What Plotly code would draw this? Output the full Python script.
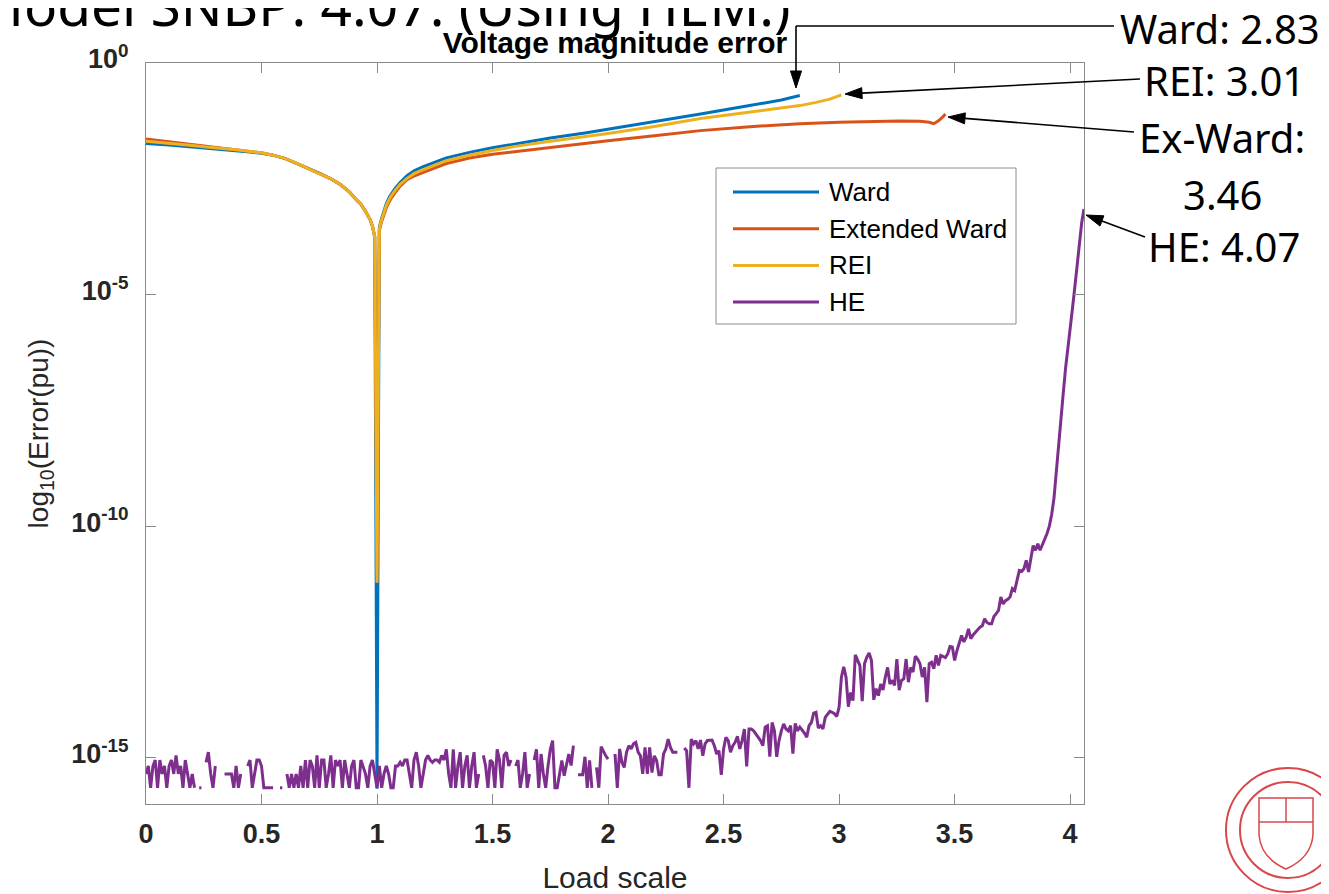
import math
import plotly.graph_objects as go

# ---------------- data ----------------
SERIES_NAMES = ["Ward", "Extended Ward", "REI", "HE"]
SERIES_COLORS = ["#0072BD", "#D95319", "#EDB120", "#7E2F8E"]

# log10 of the voltage-magnitude error (pu)
WARD_X = [0, 0.05, 0.1, 0.15, 0.2, 0.25, 0.3, 0.35, 0.4, 0.45, 0.5, 0.55, 0.6, 0.65, 0.7, 0.75,
          0.8, 0.84, 0.88, 0.91, 0.93, 0.95, 0.96, 0.97, 0.98, 0.99, 1.0,
          1.01, 1.02, 1.03, 1.04, 1.05, 1.06, 1.08, 1.1, 1.13, 1.16, 1.2, 1.25, 1.3, 1.35,
          1.4, 1.5, 1.6, 1.75, 1.9, 2.0, 2.2, 2.4, 2.6, 2.75, 2.83]
WARD_LOG10 = [-1.74, -1.75, -1.77, -1.79, -1.81, -1.83, -1.85, -1.87, -1.89, -1.92, -1.95,
              -1.99, -2.06, -2.16, -2.27, -2.38, -2.50, -2.62, -2.78, -2.95, -3.05, -3.20,
              -3.28, -3.38, -3.52, -3.75, -15.67,
              -3.55, -3.35, -3.18, -3.04, -2.93, -2.84, -2.70, -2.58, -2.43, -2.33, -2.24,
              -2.14, -2.05, -1.99, -1.93, -1.83, -1.74, -1.62, -1.51, -1.43, -1.27, -1.10,
              -0.93, -0.80, -0.70]

EXW_X = [0, 0.05, 0.1, 0.15, 0.2, 0.25, 0.3, 0.35, 0.4, 0.45, 0.5, 0.55, 0.6, 0.65, 0.7, 0.75,
         0.8, 0.84, 0.88, 0.91, 0.93, 0.95, 0.96, 0.97, 0.98, 0.99, 1.0,
         1.01, 1.02, 1.03, 1.04, 1.05, 1.06, 1.08, 1.1, 1.13, 1.16, 1.2, 1.25, 1.3, 1.35,
         1.4, 1.5, 1.6, 1.75, 1.9, 2.0, 2.2, 2.4, 2.6, 2.83, 3.0, 3.15, 3.26, 3.35, 3.39,
         3.41, 3.43, 3.45, 3.46]
EXW_LOG10 = [-1.64, -1.67, -1.70, -1.73, -1.76, -1.79, -1.82, -1.85, -1.88, -1.91, -1.94,
             -1.99, -2.06, -2.16, -2.27, -2.38, -2.50, -2.62, -2.78, -2.95, -3.05, -3.20,
             -3.28, -3.38, -3.52, -3.76, -11.0,
             -3.62, -3.42, -3.26, -3.13, -3.02, -2.93, -2.79, -2.66, -2.52, -2.44, -2.36,
             -2.26, -2.17, -2.11, -2.05, -1.97, -1.91, -1.82, -1.74, -1.68, -1.57, -1.46,
             -1.38, -1.31, -1.28, -1.26, -1.25, -1.26, -1.28, -1.31, -1.25, -1.16, -1.10]

REI_X = [0, 0.05, 0.1, 0.15, 0.2, 0.25, 0.3, 0.35, 0.4, 0.45, 0.5, 0.55, 0.6, 0.65, 0.7, 0.75,
         0.8, 0.84, 0.88, 0.91, 0.93, 0.95, 0.96, 0.97, 0.98, 0.99, 1.0,
         1.01, 1.02, 1.03, 1.04, 1.05, 1.06, 1.08, 1.1, 1.13, 1.16, 1.2, 1.25, 1.3, 1.35,
         1.4, 1.5, 1.6, 1.75, 1.9, 2.0, 2.2, 2.4, 2.6, 2.75, 2.83, 2.9, 2.96, 3.01]
REI_LOG10 = [-1.69, -1.71, -1.73, -1.76, -1.78, -1.81, -1.83, -1.86, -1.88, -1.91, -1.94,
             -1.99, -2.06, -2.16, -2.27, -2.38, -2.50, -2.62, -2.78, -2.95, -3.05, -3.20,
             -3.28, -3.38, -3.52, -3.75, -11.22,
             -3.58, -3.38, -3.21, -3.08, -2.97, -2.88, -2.74, -2.62, -2.49, -2.39, -2.30,
             -2.20, -2.11, -2.05, -1.99, -1.89, -1.80, -1.69, -1.59, -1.52, -1.37, -1.20,
             -1.07, -0.97, -0.92, -0.85, -0.78, -0.69]

# HE: one value every 0.01 of load scale, from 0.00 to 4.06 (None = exact zero, not drawn)
HE_STEP = 0.01
HE_LOG10 = [
    -15.35, -15.18, -15.65, -15.18, -15.05, -15.65, -15.05, -15.35, -15.18, -15.65,  # 0.0
    -15.18, -15.05, -15.35, -14.95, -15.35, -15.18, -15.65, -15.05, -15.35, -15.65,  # 0.1
    -15.35, -15.65, None, -15.65, -15.65, None, -15.10, -14.88, -15.35, -15.65,      # 0.2
    -15.18, None, None, None, -15.35, -15.35, -15.35, -15.35, -15.65, -15.18,        # 0.3
    -15.65, -15.35, None, None, -15.18, -15.05, -15.65, -15.35, -15.05, -15.05,      # 0.4
    -15.18, -15.65, -15.65, -15.65, -15.65, -15.65, None, None, -15.65, -15.65,      # 0.5
    None, -15.35, -15.65, -15.35, -15.65, -15.35, -15.65, -15.18, -15.65, -15.05,    # 0.6
    -15.65, -15.05, -15.18, -15.65, -14.95, -15.65, -15.05, -15.05, -15.65, -15.35,  # 0.7
    -14.95, -15.65, -15.05, -15.18, -15.05, -15.65, -15.05, -15.35, -15.65, -15.18,  # 0.8
    -15.05, -15.65, -15.65, -15.05, -15.18, -15.35, -15.65, -15.18, -15.05, -15.35,  # 0.9
    -15.65, -15.18, -15.65, -15.35, -15.18, -15.35, -15.65, -15.65, -15.18, -15.18,  # 1.0
    -15.10, -15.18, -15.05, -15.05, -15.35, -15.65, -15.05, -14.88, -15.18, -15.65,  # 1.1
    -15.35, -15.05, -14.95, -15.05, -15.10, -15.05, -15.05, -15.10, -14.95, -15.05,  # 1.2
    -14.82, -15.35, -15.65, -14.82, -15.65, -15.18, -14.88, -15.65, -15.18, -14.95,  # 1.3
    -15.65, -15.18, -14.88, -15.65, -15.35, None, -14.95, -15.18, -15.65, -15.05,    # 1.4
    -15.10, -15.65, -14.82, -15.05, -15.65, -14.95, -14.88, -15.18, -15.05, None,    # 1.5
    -15.18, -15.05, -15.65, -15.35, -14.88, -15.65, -15.35, None, -15.05, -14.82,    # 1.6
    -15.65, -14.92, -15.35, -15.65, -15.18, -14.82, -14.63, -15.65, -15.65, -15.35,  # 1.7
    -15.06, -15.39, -15.18, -14.92, -15.17, -14.74, None, -15.37, -15.37, -15.37,    # 1.8
    -14.98, -15.65, -15.06, -15.65, None, -15.21, -15.65, -14.76, -14.88, -14.96,    # 1.9
    -15.03, None, None, -14.92, -15.65, -14.81, -15.10, -15.21, -14.88, -14.74,      # 2.0
    -14.81, -14.70, -14.67, -14.88, -14.96, -15.35, -14.78, -15.35, -14.78, -15.32,  # 2.1
    -14.96, -15.06, -15.37, -15.37, -14.92, -14.81, -14.60, -14.78, -14.88, -14.88,  # 2.2
    -14.88, None, None, -14.79, -14.85, -15.65, -14.60, -14.70, -14.63, -14.81,      # 2.3
    -14.62, -14.96, -14.70, -14.63, -14.62, -14.62, -14.74, -14.92, -14.85, -15.37,  # 2.4
    -14.81, -14.56, -14.63, -14.88, -14.74, -14.67, -14.54, -14.81, -14.63, -14.38,  # 2.5
    -15.19, -14.38, -14.38, -14.42, -14.49, -14.56, -14.63, -14.74, -14.34, -14.31,  # 2.6
    -14.98, -14.24, -14.42, -14.98, -14.63, -14.42, -14.27, -14.38, -14.42, -14.31,  # 2.7
    -14.91, -14.26, -14.42, -14.34, -14.40, -14.47, -14.56, -14.31, -14.24, -14.04,  # 2.8
    -14.02, -14.36, -14.31, -14.38, -14.13, -14.05, -14.00, -14.02, -14.05, -14.11,  # 2.9
    -13.91, -13.26, -13.04, -13.26, -13.90, -13.59, -13.77, -12.78, -12.90, -13.01,  # 3.0
    -13.78, -12.97, -12.83, -12.74, -12.90, -13.75, -13.51, -13.66, -13.41, -13.54,  # 3.1
    -13.26, -13.05, -13.41, -13.33, -13.44, -12.87, -13.54, -13.33, -13.30, -12.87,  # 3.2
    -13.37, -13.05, -13.15, -12.81, -12.87, -12.97, -13.26, -13.05, -13.80, -12.97,  # 3.3
    -12.94, -13.08, -12.79, -13.01, -12.79, -12.81, -12.84, -12.76, -12.60, -12.61,  # 3.4
    -12.90, -12.69, -12.54, -12.36, -12.50, -12.40, -12.22, -12.43, -12.35, -12.29,  # 3.5
    -12.22, -12.18, -12.15, -12.00, -12.08, -12.11, -12.11, -11.95, -11.89, -11.82,  # 3.6
    -11.53, -11.68, -11.61, -11.58, -11.53, -11.35, -11.39, -11.14, -10.96, -10.98,  # 3.7
    -10.92, -10.74, -10.99, -10.70, -10.42, -10.52, -10.38, -10.52, -10.40, -10.30,  # 3.8
    -10.16, -10.00, -9.75, -9.40, -8.80, -8.29, -7.75, -7.14, -6.60, -6.20,          # 3.9
    -5.75, -5.30, -4.85, -4.40, -3.90, -3.45, -3.15,                                 # 4.0
]
HE_X = [round(i * HE_STEP, 2) for i in range(len(HE_LOG10))]

X_TICKS = [0, 0.5, 1, 1.5, 2, 2.5, 3, 3.5, 4]
X_TICK_TEXT = ["0", "0.5", "1", "1.5", "2", "2.5", "3", "3.5", "4"]
Y_TICKS = [1e-15, 1e-10, 1e-5, 1]
Y_TICK_TEXT = ["10<sup>-15</sup>", "10<sup>-10</sup>", "10<sup>-5</sup>", "10<sup>0</sup>"]

CALLOUTS = ["Ward: 2.83", "REI: 3.01", "Ex-Ward:", "3.46", "HE: 4.07"]
SLIDE_TITLE = "Model SNBP: 4.07. (Using HEM.)"


def to_err(logs):
    return [None if v is None else 10 ** v for v in logs]


# ---------------- geometry (page has an 8px body margin) ----------------
OFF = 8
FW, FH = 1329 - 2 * OFF, 894 - OFF
# plot area in screenshot pixels
PL, PR, PT, PB = 146, 1084, 63, 804


def px(x):  # screenshot x -> paper
    return (x - PL) / (PR - PL)


def py(y):  # screenshot y -> paper
    return (PB - y) / (PB - PT)


fig = go.Figure()
for name, color, xs, ys in [
    (SERIES_NAMES[0], SERIES_COLORS[0], WARD_X, WARD_LOG10),
    (SERIES_NAMES[1], SERIES_COLORS[1], EXW_X, EXW_LOG10),
    (SERIES_NAMES[2], SERIES_COLORS[2], REI_X, REI_LOG10),
    (SERIES_NAMES[3], SERIES_COLORS[3], HE_X, HE_LOG10),
]:
    fig.add_trace(go.Scatter(x=xs, y=to_err(ys), mode="lines", name=name,
                             line=dict(color=color, width=3), connectgaps=False))

AX = "#8a8a8a"
TXT = "#262626"
fig.update_layout(
    width=FW, height=FH,
    margin=dict(l=PL - OFF, r=FW - (PR - OFF), t=PT - OFF, b=FH - (PB - OFF)),
    plot_bgcolor="white", paper_bgcolor="white",
    showlegend=False,
    title=dict(text="<b>Voltage magnitude error</b>", x=0.5, xref="paper",
               y=1 - (42 - OFF) / FH, yref="container", xanchor="center", yanchor="middle",
               font=dict(family="Liberation Sans", size=30, color="black")),
    xaxis=dict(range=[0, 4.06], tickvals=X_TICKS, ticktext=X_TICK_TEXT,
               ticks="inside", ticklen=10, tickcolor=AX, tickwidth=1,
               showline=True, linecolor=AX, linewidth=1, mirror="ticks",
               showgrid=False, zeroline=False, automargin=False,
               ticklabelstandoff=6,
               tickfont=dict(family="Liberation Sans", size=27, color=TXT, weight="bold"),
               title=dict(text="Load scale", standoff=20,
                          font=dict(family="Liberation Sans", size=30, color=TXT))),
    yaxis=dict(type="log", range=[-16, 0], tickvals=Y_TICKS, ticktext=Y_TICK_TEXT,
               ticks="inside", ticklen=10, tickcolor=AX, tickwidth=1,
               showline=True, linecolor=AX, linewidth=1, mirror="ticks",
               showgrid=False, zeroline=False, automargin=False,
               ticklabelstandoff=11, ticklabelshift=-4,
               tickfont=dict(family="Liberation Sans", size=27, color=TXT, weight="bold"),
               title=dict(text="log<sub>10</sub>(Error(pu))", standoff=14,
                          font=dict(family="Liberation Sans", size=28, color=TXT))),
)

shapes = []
annotations = []

# ---- manual legend ----
LX0, LX1, LY0, LY1 = 716, 1016, 168, 324
shapes.append(dict(type="rect", xref="paper", yref="paper", x0=px(LX0), x1=px(LX1),
                   y0=py(LY1), y1=py(LY0), line=dict(color="#8c8c8c", width=1),
                   fillcolor="white", layer="above"))
for i, (name, color) in enumerate(zip(SERIES_NAMES, SERIES_COLORS)):
    ry = 192 + i * 36.7
    shapes.append(dict(type="line", xref="paper", yref="paper", x0=px(733), x1=px(819),
                       y0=py(ry), y1=py(ry), line=dict(color=color, width=3), layer="above"))
    annotations.append(dict(text=name, xref="paper", yref="paper", x=px(827), y=py(ry),
                            xanchor="left", yanchor="middle", showarrow=False,
                            font=dict(family="Liberation Sans", size=26, color="black")))


# ---- callout arrows ----
def arrow(tail, head, L=17, Wd=11):
    (tx, ty), (hx, hy) = tail, head
    dx, dy = hx - tx, hy - ty
    d = math.hypot(dx, dy)
    ux, uy = dx / d, dy / d
    nx, ny = -uy, ux
    bx, by = hx - L * ux, hy - L * uy
    shapes.append(dict(type="line", xref="paper", yref="paper", x0=px(tx), y0=py(ty),
                       x1=px(bx), y1=py(by), line=dict(color="black", width=1.6),
                       layer="above"))
    p = "M {},{} L {},{} L {},{} Z".format(
        px(hx), py(hy), px(bx + nx * Wd / 2), py(by + ny * Wd / 2),
        px(bx - nx * Wd / 2), py(by - ny * Wd / 2))
    shapes.append(dict(type="path", xref="paper", yref="paper", path=p,
                       fillcolor="black", line=dict(color="black", width=1), layer="above"))


# Ward: elbow connector
shapes.append(dict(type="line", xref="paper", yref="paper", x0=px(1114), y0=py(26),
                   x1=px(796), y1=py(26), line=dict(color="black", width=1.6), layer="above"))
arrow((796, 26), (796, 88))
arrow((1140, 79), (845, 94))
arrow((1134, 132), (948, 117))
arrow((1145, 237), (1086, 215))

CALLOUT_POS = [(1118, 28, "left"), (1142, 80, "left"), (1137, 138, "left"),
               (1222, 194, "center"), (1146, 246, "left")]
for text, (cx, cy, anc) in zip(CALLOUTS, CALLOUT_POS):
    annotations.append(dict(text=text, xref="paper", yref="paper", x=px(cx), y=py(cy),
                            xanchor=anc, yanchor="middle", showarrow=False,
                            font=dict(family="Noto Sans", size=40, color="black")))

# slide title, cut off at the top edge
annotations.append(dict(text=SLIDE_TITLE, xref="paper", yref="paper", x=px(793), y=py(4),
                        xanchor="right", yanchor="middle", showarrow=False,
                        font=dict(family="Noto Sans", size=55, color="black")))

# university seal (decorative, bottom right)
SEAL = "#d8474a"
CX, CY = 1288, 830
for r in (62, 48):
    shapes.append(dict(type="circle", xref="paper", yref="paper",
                       x0=px(CX - r), x1=px(CX + r), y0=py(CY + r), y1=py(CY - r),
                       line=dict(color=SEAL, width=2)))
shield = "M {},{} L {},{} L {},{} Q {},{} {},{} Q {},{} {},{} Z".format(
    px(1259), py(798), px(1313), py(798), px(1313), py(835),
    px(1311), py(858), px(1286), py(869), px(1261), py(858), px(1259), py(835))
shapes.append(dict(type="path", xref="paper", yref="paper", path=shield,
                   line=dict(color=SEAL, width=1.5)))
shapes.append(dict(type="line", xref="paper", yref="paper", x0=px(1259), x1=px(1313),
                   y0=py(822), y1=py(822), line=dict(color=SEAL, width=1.5)))
shapes.append(dict(type="line", xref="paper", yref="paper", x0=px(1286), x1=px(1286),
                   y0=py(798), y1=py(822), line=dict(color=SEAL, width=1.5)))

fig.update_layout(shapes=shapes, annotations=annotations)
fig.write_html("out.html")
